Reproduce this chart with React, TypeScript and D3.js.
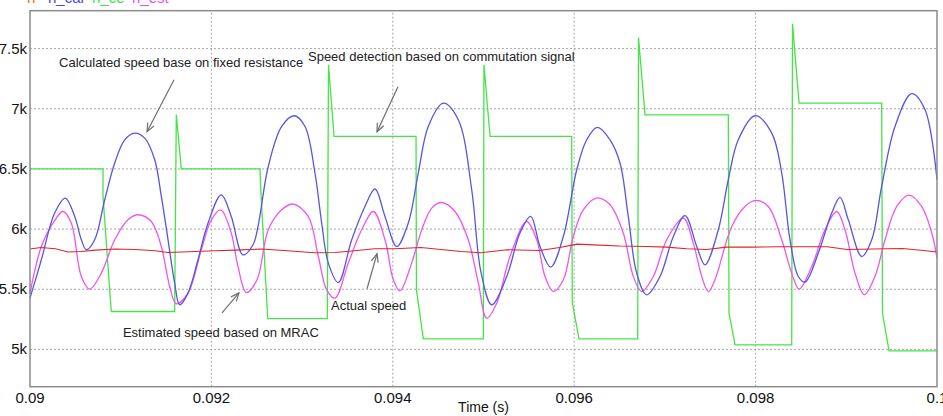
import React from 'react';
import * as d3 from 'd3';

// time axis ticks and speed ticks
const xTicks = [0.09, 0.092, 0.094, 0.096, 0.098, 0.1];
const xTickLabels = ['0.09', '0.092', '0.094', '0.096', '0.098', '0.1'];
const yTicks = [5000, 5500, 6000, 6500, 7000, 7500];
const yTickLabels = ['5k', '5.5k', '6k', '6.5k', '7k', '7.5k'];

// n (actual speed)
const nTime = [0.09, 0.09012, 0.09028, 0.09042, 0.09056, 0.09072, 0.09094, 0.09116, 0.09138, 0.09152, 0.09182, 0.09204, 0.09226, 0.09255, 0.09284, 0.09314, 0.09336, 0.09358, 0.0938, 0.09402, 0.09431, 0.09453, 0.09475, 0.09497, 0.09526, 0.09562, 0.09584, 0.09603, 0.09621, 0.0965, 0.0968, 0.09702, 0.09724, 0.09746, 0.09768, 0.09797, 0.09827, 0.09879, 0.09901, 0.09929, 0.09962, 0.09985, 0.1];
const nValue = [5834, 5847, 5836, 5809, 5814, 5825, 5834, 5830, 5820, 5805, 5814, 5820, 5825, 5834, 5820, 5803, 5805, 5820, 5836, 5836, 5847, 5830, 5814, 5803, 5828, 5822, 5847, 5875, 5869, 5859, 5855, 5850, 5836, 5830, 5850, 5850, 5853, 5853, 5830, 5834, 5839, 5822, 5809];

// n_cal (calculated speed, fixed resistance)
const calTime = [0.09, 0.090125, 0.090272, 0.090389, 0.090493, 0.090566, 0.090621, 0.090713, 0.090824, 0.090934, 0.091044, 0.091154, 0.091265, 0.091375, 0.091448, 0.091522, 0.091595, 0.09165, 0.091742, 0.091852, 0.091963, 0.092109, 0.092219, 0.092348, 0.092459, 0.092514, 0.092627, 0.092775, 0.092914, 0.093032, 0.093142, 0.093216, 0.093289, 0.093399, 0.093547, 0.093693, 0.093804, 0.093914, 0.094043, 0.094171, 0.094281, 0.094391, 0.094557, 0.094722, 0.09487, 0.09497, 0.09509, 0.095256, 0.095402, 0.09552, 0.095623, 0.095741, 0.09588, 0.096028, 0.096138, 0.096255, 0.096395, 0.096505, 0.096596, 0.096689, 0.096799, 0.096946, 0.097093, 0.097222, 0.097351, 0.097442, 0.097589, 0.097699, 0.097809, 0.097993, 0.098178, 0.098288, 0.098379, 0.098471, 0.098545, 0.098691, 0.098839, 0.098931, 0.099022, 0.09917, 0.09928, 0.09939, 0.099537, 0.099721, 0.099868, 0.1];
const calValue = [5426, 5745, 6133, 6258, 6105, 5911, 5828, 5911, 6244, 6549, 6742, 6798, 6756, 6576, 6271, 5911, 5551, 5371, 5468, 5745, 6050, 6285, 6105, 5786, 5870, 6022, 6520, 6853, 6942, 6853, 6466, 6050, 5717, 5556, 5911, 6188, 6333, 6105, 5855, 6050, 6466, 6853, 7047, 6909, 6327, 5650, 5371, 5606, 5967, 6105, 5855, 5684, 5938, 6493, 6742, 6845, 6742, 6549, 6105, 5634, 5454, 5606, 5938, 6111, 5855, 5703, 5994, 6410, 6742, 6942, 6798, 6466, 5911, 5606, 5559, 5800, 6133, 6263, 6077, 5772, 5911, 6354, 6853, 7125, 6992, 6410];

// n_ce (commutation signal detection)
const ceTime = [0.09, 0.090805, 0.090805, 0.090896, 0.091595, 0.091613, 0.091668, 0.092536, 0.092541, 0.092621, 0.093278, 0.093291, 0.093352, 0.094256, 0.094261, 0.094336, 0.094998, 0.095005, 0.095072, 0.095972, 0.095979, 0.096053, 0.0967, 0.096709, 0.096781, 0.097699, 0.097707, 0.097773, 0.098398, 0.098407, 0.098479, 0.09939, 0.099399, 0.099471, 0.1];
const ceValue = [6500, 6500, 6270, 5315, 5315, 6950, 6500, 6500, 6380, 5255, 5255, 7366, 6770, 6770, 5495, 5088, 5088, 7366, 6770, 6770, 5390, 5088, 5088, 7591, 6950, 6950, 5302, 5038, 5038, 7707, 7047, 7047, 5302, 4988, 4988];

// n_est (MRAC estimate)
const estTime = [0.09, 0.090125, 0.090254, 0.090364, 0.090455, 0.090566, 0.090658, 0.090786, 0.090934, 0.09108, 0.091191, 0.091337, 0.091448, 0.09154, 0.091613, 0.091742, 0.091889, 0.091999, 0.092103, 0.092219, 0.092293, 0.092385, 0.092503, 0.092627, 0.092775, 0.092903, 0.093068, 0.093179, 0.093271, 0.093363, 0.093509, 0.093657, 0.093785, 0.093914, 0.094006, 0.094079, 0.094208, 0.094319, 0.094429, 0.094539, 0.094686, 0.094832, 0.094943, 0.095035, 0.095146, 0.095292, 0.095476, 0.095587, 0.095678, 0.09577, 0.09588, 0.09599, 0.0961, 0.096248, 0.096395, 0.096541, 0.096652, 0.096744, 0.096872, 0.09702, 0.097203, 0.097313, 0.097406, 0.097479, 0.097552, 0.097737, 0.097883, 0.098001, 0.09814, 0.098288, 0.098398, 0.098479, 0.098619, 0.098765, 0.098894, 0.098986, 0.099096, 0.099199, 0.099316, 0.099427, 0.099556, 0.099691, 0.099831, 0.099942, 0.1];
const estValue = [5468, 5855, 6050, 6146, 6050, 5606, 5501, 5634, 5911, 6077, 6119, 6063, 5855, 5523, 5379, 5468, 5828, 6077, 6160, 5967, 5689, 5473, 5579, 5994, 6160, 6208, 6105, 5772, 5495, 5426, 5717, 5994, 6146, 5911, 5579, 5487, 5717, 5994, 6174, 6221, 6146, 5911, 5551, 5260, 5384, 5772, 6063, 5911, 5606, 5481, 5579, 5938, 6160, 6258, 6202, 5967, 5606, 5481, 5606, 5911, 6091, 5883, 5606, 5481, 5579, 6022, 6188, 6238, 6188, 5911, 5634, 5501, 5689, 5994, 6146, 5994, 5634, 5454, 5606, 5911, 6188, 6283, 6188, 5967, 5759];

const legendNames = ['n', 'n_cal', 'n_ce', 'n_est'];
const legendColors = ['#f26a1b', '#4646e6', '#3fe03f', '#ee4cee'];

// annotation texts with anchor positions in data space
const noteText = ['Calculated speed base on fixed resistance', 'Speed detection based on commutation signal', 'Estimated speed based on MRAC', 'Actual speed'];
const noteTime = [0.09032, 0.093065, 0.091025, 0.093319];
const noteValue = [7349, 7399, 5105, 5329];
// arrows: tail and head as [t, v]
const arrowFrom = [[0.091588, 7241], [0.094057, 7183], [0.092117, 5304], [0.093716, 5504]];
const arrowTo = [[0.09129, 6809], [0.093826, 6809], [0.092304, 5470], [0.093826, 5795]];

const W = 943;
const H = 416;
const margin = { top: 10.7, right: 6, bottom: 29.3, left: 30 };

const zip = (t: number[], v: number[]) => t.map((d, i) => [d, v[i]] as [number, number]);

export default function App() {
  const x = d3.scaleLinear().domain([0.09, 0.1]).range([margin.left, W - margin.right]);
  const y = d3.scaleLinear().domain([4690, 7815]).range([H - margin.bottom, margin.top]);

  const smooth = d3.line<[number, number]>().x(d => x(d[0])).y(d => y(d[1])).curve(d3.curveCatmullRom.alpha(0.5));
  const straight = d3.line<[number, number]>().x(d => x(d[0])).y(d => y(d[1]));

  const font = '"Liberation Sans", Arial, sans-serif';

  return (
    <svg width={W} height={H} style={{ position: 'absolute', left: 0, top: 0, background: '#fff' }} fontFamily={font}>
      <rect x={0} y={0} width={W} height={H} fill="#fff" />

      {/* grid */}
      {yTicks.map(t => (
        <line key={'gy' + t} x1={x.range()[0]} x2={x.range()[1]} y1={y(t)} y2={y(t)} stroke="#a8a8a8" strokeDasharray="2,2" />
      ))}
      {xTicks.slice(1, -1).map(t => (
        <line key={'gx' + t} x1={x(t)} x2={x(t)} y1={y.range()[0]} y2={y.range()[1]} stroke="#a8a8a8" strokeDasharray="2,2" />
      ))}

      {/* series */}
      <path d={straight(zip(ceTime, ceValue)) || ''} fill="none" stroke="#44e544" strokeWidth={1.3} />
      <path d={smooth(zip(estTime, estValue)) || ''} fill="none" stroke="#ef55ef" strokeWidth={1.3} />
      <path d={smooth(zip(calTime, calValue)) || ''} fill="none" stroke="#5656e2" strokeWidth={1.3} />
      <path d={straight(zip(nTime, nValue)) || ''} fill="none" stroke="#e02525" strokeWidth={1.1} />

      {/* frame */}
      <rect x={x.range()[0]} y={y.range()[1]} width={x.range()[1] - x.range()[0]} height={y.range()[0] - y.range()[1]} fill="none" stroke="#8c8c8c" strokeWidth={1.5} />

      {/* annotations */}
      {noteText.map((s, i) => (
        <text key={s} x={x(noteTime[i])} y={y(noteValue[i])} fontSize={13} fill="#222">{s}</text>
      ))}
      {arrowFrom.map((a, i) => {
        const b = arrowTo[i];
        const x0 = x(a[0]), y0 = y(a[1]), x1 = x(b[0]), y1 = y(b[1]);
        const ang = Math.atan2(y1 - y0, x1 - x0);
        const len = 9, spread = 0.4;
        const h1 = [x1 - len * Math.cos(ang - spread), y1 - len * Math.sin(ang - spread)];
        const h2 = [x1 - len * Math.cos(ang + spread), y1 - len * Math.sin(ang + spread)];
        return (
          <g key={'ar' + i} stroke="#6e6e6e" strokeWidth={1.2} fill="none">
            <line x1={x0} y1={y0} x2={x1} y2={y1} />
            <polyline points={`${h1[0]},${h1[1]} ${x1},${y1} ${h2[0]},${h2[1]}`} />
          </g>
        );
      })}

      {/* axes labels */}
      {yTicks.map((t, i) => (
        <text key={'yl' + t} x={margin.left - 3} y={y(t) + 5} textAnchor="end" fontSize={15} fill="#111">{yTickLabels[i]}</text>
      ))}
      {xTicks.map((t, i) => (
        <text key={'xl' + t} x={x(t)} y={H - 13} textAnchor="middle" fontSize={15} fill="#111">{xTickLabels[i]}</text>
      ))}
      <text x={(x.range()[0] + x.range()[1]) / 2} y={H - 4} textAnchor="middle" fontSize={14} fill="#111">Time (s)</text>

      {/* legend, cut at top edge as in the source */}
      {legendNames.map((s, i) => {
        const lx = [27, 48, 92, 132][i];
        return <text key={s} x={lx} y={3} fontSize={15} fill={legendColors[i]}>{s}</text>;
      })}
    </svg>
  );
}
